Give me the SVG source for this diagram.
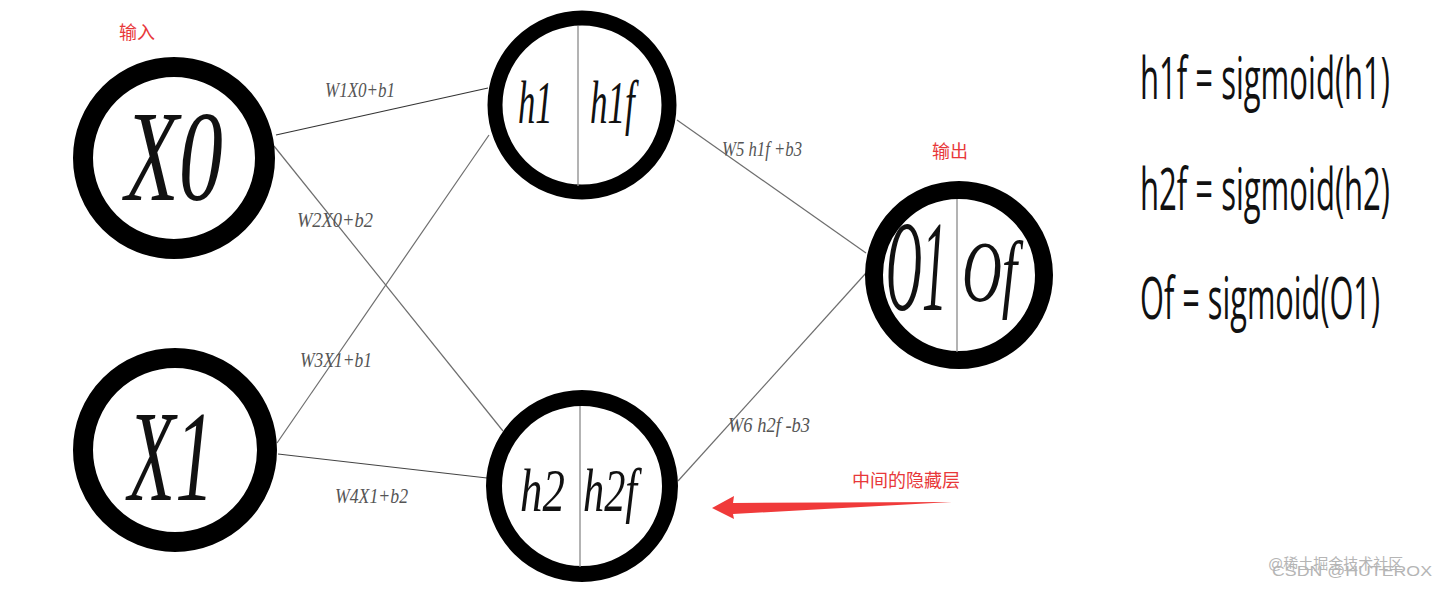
<svg xmlns="http://www.w3.org/2000/svg" width="1447" height="594" viewBox="0 0 1447 594">
<style>
.ring{fill:#fff;stroke:#000}
.div{stroke:#8a8a8a;stroke-width:1.3}
.conn{stroke:#6e6e6e;stroke-width:1.2;fill:none}
.nl{font-family:"Liberation Serif",serif;font-style:italic;fill:#111}
.el{font-family:"Liberation Serif",serif;font-style:italic;fill:#555;font-size:22px}
.red{font-family:"Noto Sans CJK SC",sans-serif;fill:#e8383a;font-size:18px}
.fm{font-family:"Open Sans","Liberation Sans",sans-serif;fill:#111;font-size:58px}
.wm{font-family:"Liberation Sans","Noto Sans CJK SC",sans-serif;fill:#b5b5b5;font-size:15px}
</style>
<rect width="1447" height="594" fill="#fff"/>
<g id="connectors">
<line class="conn" x1="276" y1="135" x2="488" y2="88" style="stroke:#333"/>
<line class="conn" x1="274" y1="146" x2="503" y2="431"/>
<line class="conn" x1="277" y1="443" x2="489" y2="135"/>
<line class="conn" x1="278" y1="454" x2="487" y2="478" style="stroke:#444"/>
<line class="conn" x1="677" y1="120" x2="866" y2="253"/>
<line class="conn" x1="678" y1="481" x2="866" y2="273"/>
</g>
<g id="edge-labels">
<text class="el" x="325" y="97" textLength="70" lengthAdjust="spacingAndGlyphs">W1X0+b1</text>
<text class="el" x="297" y="227" textLength="76" lengthAdjust="spacingAndGlyphs">W2X0+b2</text>
<text class="el" x="300" y="367" textLength="72" lengthAdjust="spacingAndGlyphs">W3X1+b1</text>
<text class="el" x="335" y="503" textLength="73" lengthAdjust="spacingAndGlyphs">W4X1+b2</text>
<text class="el" x="722" y="156" textLength="80" lengthAdjust="spacingAndGlyphs">W5 h1f +b3</text>
<text class="el" x="728" y="432" textLength="82" lengthAdjust="spacingAndGlyphs">W6 h2f -b3</text>
</g>
<g id="node-x0">
<text class="red" x="119" y="39">输入</text>
<circle class="ring" cx="174" cy="158" r="91" stroke-width="20"/>
<text class="nl" transform="translate(125,200) scale(0.68,1)" font-size="130" textLength="144" lengthAdjust="spacingAndGlyphs">X0</text>
</g>
<g id="node-x1">
<circle class="ring" cx="175" cy="450" r="92" stroke-width="20"/>
<text class="nl" transform="translate(128,500) scale(0.6,1)" font-size="130" textLength="143" lengthAdjust="spacingAndGlyphs">X1</text>
</g>
<g id="node-h1">
<circle class="ring" cx="582" cy="105" r="87" stroke-width="15"/>
<line class="div" x1="578" y1="26" x2="578" y2="186"/>
<text class="nl" transform="translate(518,123) scale(0.56,1)" font-size="62" textLength="62" lengthAdjust="spacingAndGlyphs">h1</text>
<text class="nl" transform="translate(590,123) scale(0.56,1)" font-size="62" textLength="80" lengthAdjust="spacingAndGlyphs">h1f</text>
</g>
<g id="node-h2">
<circle class="ring" cx="582" cy="486" r="88" stroke-width="16"/>
<line class="div" x1="580" y1="406" x2="580" y2="567"/>
<text class="nl" transform="translate(520,511) scale(0.7,1)" font-size="62" textLength="64" lengthAdjust="spacingAndGlyphs">h2</text>
<text class="nl" transform="translate(583,511) scale(0.66,1)" font-size="62" textLength="82" lengthAdjust="spacingAndGlyphs">h2f</text>
</g>
<g id="node-o1">
<text class="red" x="932" y="158">输出</text>
<circle class="ring" cx="959" cy="275" r="85" stroke-width="18"/>
<line class="div" x1="957" y1="199" x2="957" y2="352"/>
<text class="nl" transform="translate(886,310) scale(0.4,1)" font-size="130" textLength="152" lengthAdjust="spacingAndGlyphs">O1</text>
<text class="nl" transform="translate(962,301) scale(0.64,1)" font-size="86" textLength="86" lengthAdjust="spacingAndGlyphs">Of</text>
</g>
<g id="formulas">
<text class="fm" transform="translate(1140,99) scale(0.5,1)" textLength="500" lengthAdjust="spacingAndGlyphs">h1f = sigmoid(h1)</text>
<text class="fm" transform="translate(1140,210) scale(0.5,1)" textLength="500" lengthAdjust="spacingAndGlyphs">h2f = sigmoid(h2)</text>
<text class="fm" transform="translate(1140,319) scale(0.5,1)" textLength="480" lengthAdjust="spacingAndGlyphs">Of = sigmoid(O1)</text>
</g>
<g id="hidden-note">
<text class="red" x="852" y="487" font-size="19">中间的隐藏层</text>
<polygon points="712,508 734,496 733,503 952,502 733,514 734,519" fill="#f03a3a"/>
</g>
<g id="watermark">
<text class="wm" x="1268" y="569">@稀土掘金技术社区</text>
<text class="wm" x="1272" y="576" textLength="160" lengthAdjust="spacingAndGlyphs">CSDN @HUTEROX</text>
</g>
</svg>
